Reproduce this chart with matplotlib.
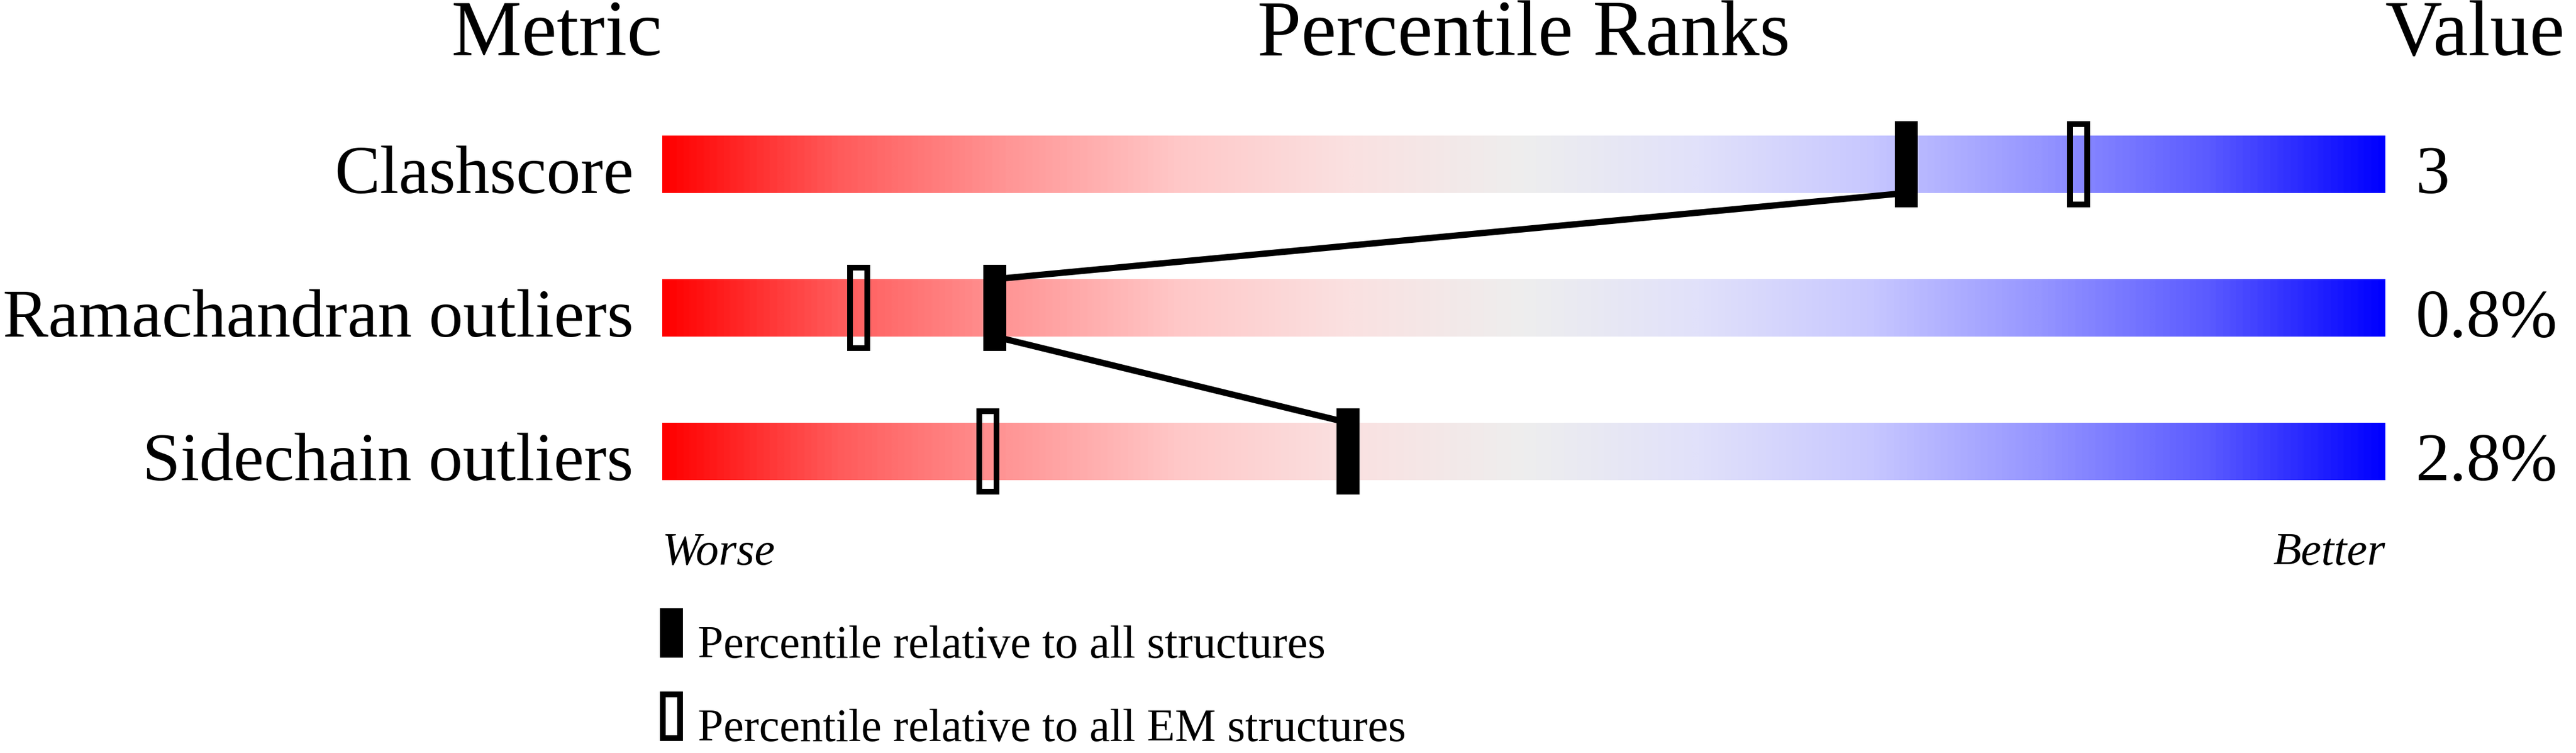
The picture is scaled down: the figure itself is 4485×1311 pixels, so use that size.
import matplotlib
matplotlib.use("Agg")
import matplotlib.pyplot as plt
from matplotlib.patches import Rectangle
from matplotlib.colors import LinearSegmentedColormap
import numpy as np

# ---------------- data ----------------
metrics = ["Clashscore", "Ramachandran outliers", "Sidechain outliers"]
values = ["3", "0.8%", "2.8%"]
pct_all = [72.2, 19.3, 39.8]      # percentile relative to all structures
pct_em = [82.2, 11.4, 18.9]       # percentile relative to all EM structures
headers = ["Metric", "Percentile Ranks", "Value"]
scale_labels = ["Worse", "Better"]
legend_labels = ["Percentile relative to all structures",
                 "Percentile relative to all EM structures"]

# gradient colour stops (position, colour)
grad_pos = [0.0, 0.1, 0.2, 0.3, 0.4, 0.5, 0.6, 0.7, 0.8, 0.9, 1.0]
grad_rgb = [(255, 0, 0), (255, 90, 90), (255, 150, 150), (255, 200, 200),
            (250, 225, 225), (238, 238, 238), (225, 225, 250), (200, 200, 255),
            (150, 150, 255), (90, 90, 255), (0, 0, 255)]

# ---------------- layout ----------------
plt.rcParams['font.family'] = ['Liberation Serif', 'DejaVu Serif']
W, H, DPI = 4485, 1311, 100
fig = plt.figure(figsize=(W / DPI, H / DPI), dpi=DPI)
bar_left_px, bar_right_px = 1153, 4153
ax = fig.add_axes([bar_left_px / W, 0, (bar_right_px - bar_left_px) / W, 1])
row0_px, row_px = 286, 250
ax.set_xlim(0, 100)
ax.set_ylim((H - row0_px) / row_px, -row0_px / row_px)
ax.axis('off')

xu = (bar_right_px - bar_left_px) / 100.0   # px per percentile unit
def dx(px):
    return px / xu
def dy(px):
    return px / row_px

cmap = LinearSegmentedColormap.from_list(
    "slider", [(p, tuple(c / 255 for c in rgb)) for p, rgb in zip(grad_pos, grad_rgb)])
grad = np.linspace(0, 1, 1200).reshape(1, -1)

bar_h = dy(100)
mark_w = dx(40)
mark_h = dy(150)
lw_px = 10
lw_pt = lw_px * 72 / DPI
line_pt = 11 * 72 / DPI

label_fs = 85.5
header_fs = 99
small_fs = 57.6

for i, (m, v) in enumerate(zip(metrics, values)):
    ax.imshow(grad, cmap=cmap, aspect='auto', interpolation='bilinear',
              extent=[0, 100, i + bar_h / 2, i - bar_h / 2], zorder=1)
    ax.text(-dx(50), i + bar_h / 2, m, ha='right', va='baseline', fontsize=label_fs)
    ax.text(100 + dx(53), i + bar_h / 2, v, ha='left', va='baseline', fontsize=label_fs)

# connecting lines
for i in range(len(metrics) - 1):
    ax.plot([pct_all[i], pct_all[i + 1]], [i + bar_h / 2, i + 1 - bar_h / 2],
            color='black', lw=line_pt, solid_capstyle='butt', zorder=2)

# markers
for i in range(len(metrics)):
    ax.add_patch(Rectangle((pct_all[i] - mark_w / 2, i - mark_h / 2), mark_w, mark_h,
                           facecolor='black', edgecolor='none', zorder=3))
    ax.add_patch(Rectangle((pct_em[i] - mark_w / 2 + dx(lw_px / 2), i - mark_h / 2 + dy(lw_px / 2)),
                           mark_w - dx(lw_px), mark_h - dy(lw_px),
                           facecolor='none', edgecolor='black', lw=lw_pt,
                           joinstyle='miter', zorder=3))

# headers
hy = dy(96 - row0_px)
ax.text(0, hy, headers[0], ha='right', va='baseline', fontsize=header_fs)
ax.text(50, hy, headers[1], ha='center', va='baseline', fontsize=header_fs)
ax.text(100, hy, headers[2], ha='left', va='baseline', fontsize=header_fs)

# worse / better
sy = dy(983 - row0_px)
ax.text(0, sy, scale_labels[0], ha='left', va='baseline', fontsize=small_fs, style='italic')
ax.text(100, sy, scale_labels[1], ha='right', va='baseline', fontsize=small_fs, style='italic')

# legend
leg_base_px = [1145, 1290]
leg_mark_h = dy(86)
leg_x = dx(1168.5 - bar_left_px)
for k, (lab, yb) in enumerate(zip(legend_labels, leg_base_px)):
    yb_d = dy(yb - row0_px)
    if k == 0:
        ax.add_patch(Rectangle((leg_x - mark_w / 2, yb_d - leg_mark_h), mark_w, leg_mark_h,
                               facecolor='black', edgecolor='none', clip_on=False, zorder=3))
    else:
        ax.add_patch(Rectangle((leg_x - mark_w / 2 + dx(lw_px / 2), yb_d - leg_mark_h + dy(lw_px / 2)),
                               mark_w - dx(lw_px), leg_mark_h - dy(lw_px),
                               facecolor='none', edgecolor='black', lw=lw_pt,
                               joinstyle='miter', clip_on=False, zorder=3))
    ax.text(dx(1215 - bar_left_px), yb_d, lab, ha='left', va='baseline', fontsize=small_fs)

fig.savefig("out.png", dpi=DPI, facecolor='white')
